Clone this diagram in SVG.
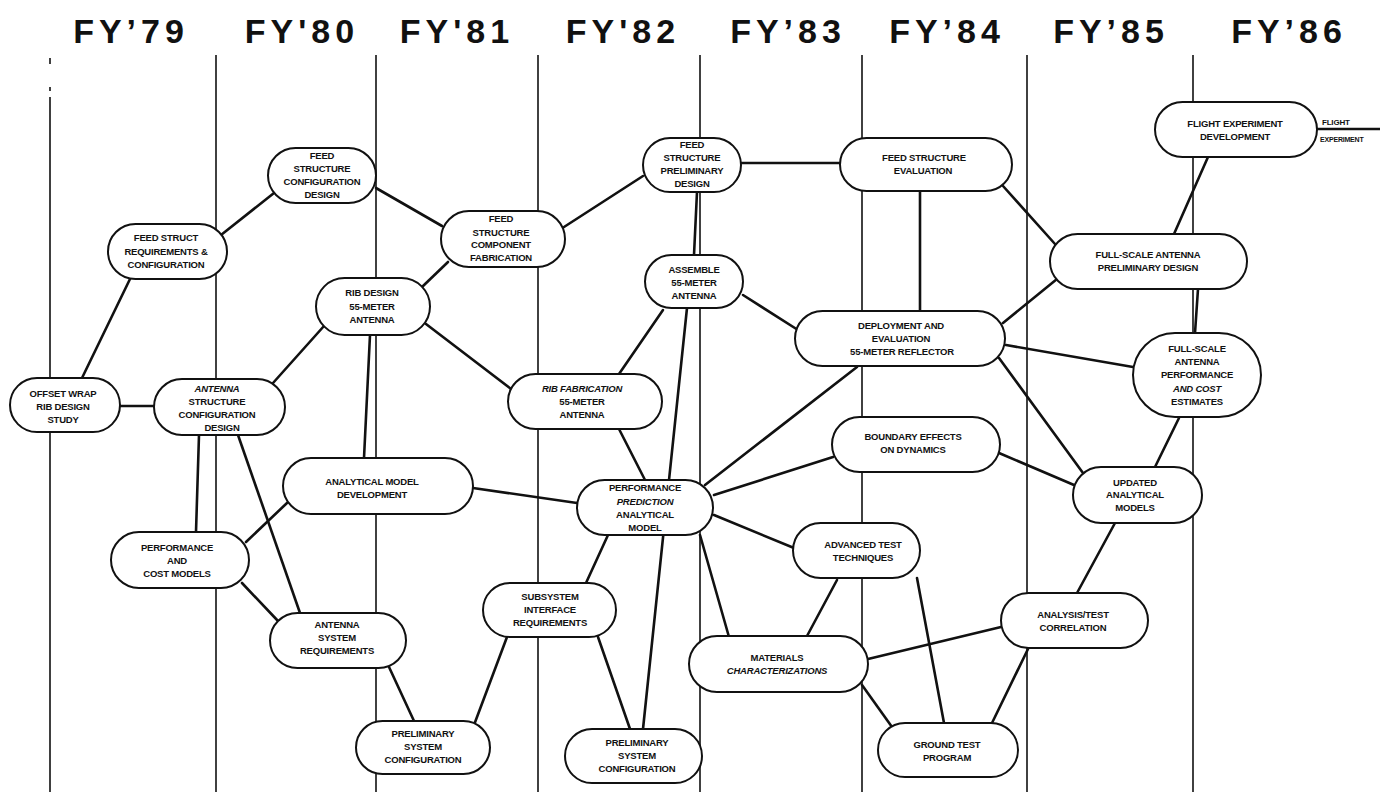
<svg xmlns="http://www.w3.org/2000/svg" width="1380" height="792" viewBox="0 0 1380 792">
  <style>
    .yr { font-family: "Liberation Sans", Arial, sans-serif; font-weight: bold; font-size: 34px; letter-spacing: 5px; fill: #111; text-anchor: middle; }
    .div { stroke: #111; stroke-width: 1.6; fill: none; }
    .edge { stroke: #111; stroke-width: 2.6; stroke-linecap: round; fill: none; }
    .node rect { fill: #fff; stroke: #111; stroke-width: 2; }
    .node text, .lbl { font-family: "Liberation Sans", Arial, sans-serif; font-weight: bold; font-size: 9.5px; letter-spacing: -0.2px; fill: #111; text-anchor: middle; }
    .it { font-style: italic; }
    .lbl { font-size: 8px; text-anchor: start; }
  </style>

  <rect width="1380" height="792" fill="#fff"/>

  <!-- fiscal-year headings -->
  <g id="years">
    <text class="yr" x="131" y="43">FY’79</text>
    <text class="yr" x="302" y="43">FY'80</text>
    <text class="yr" x="457" y="43">FY'81</text>
    <text class="yr" x="623" y="43">FY'82</text>
    <text class="yr" x="788" y="43">FY’83</text>
    <text class="yr" x="947" y="43">FY’84</text>
    <text class="yr" x="1111" y="43">FY’85</text>
    <text class="yr" x="1289" y="43">FY’86</text>
  </g>

  <!-- year dividers -->
  <g id="dividers">
    <path class="div" d="M50 58V64M50 87V91M50 97V792"/>
    <path class="div" d="M216 55V792"/>
    <path class="div" d="M376 55V792"/>
    <path class="div" d="M538 55V792"/>
    <path class="div" d="M700 55V792"/>
    <path class="div" d="M862 55V792"/>
    <path class="div" d="M1027 55V792"/>
    <path class="div" d="M1193 55V792"/>
  </g>

  <!-- connectors -->
  <g id="connectors">
    <line class="edge" x1="82" y1="378" x2="130" y2="279"/>
    <line class="edge" x1="120" y1="406" x2="154" y2="406"/>
    <line class="edge" x1="221" y1="235" x2="274" y2="193"/>
    <line class="edge" x1="376" y1="188" x2="442" y2="226"/>
    <line class="edge" x1="422" y1="287" x2="448" y2="262"/>
    <line class="edge" x1="273" y1="383" x2="324" y2="326"/>
    <line class="edge" x1="426" y1="324" x2="511" y2="389"/>
    <line class="edge" x1="370" y1="335" x2="364" y2="458"/>
    <line class="edge" x1="199" y1="435" x2="196" y2="532"/>
    <line class="edge" x1="238" y1="435" x2="300" y2="613"/>
    <line class="edge" x1="246" y1="542" x2="287" y2="503"/>
    <line class="edge" x1="242" y1="583" x2="278" y2="621"/>
    <line class="edge" x1="389" y1="667" x2="414" y2="721"/>
    <line class="edge" x1="474" y1="725" x2="507" y2="637"/>
    <line class="edge" x1="598" y1="637" x2="630" y2="729"/>
    <line class="edge" x1="643" y1="729" x2="687" y2="308"/>
    <line class="edge" x1="697" y1="192" x2="694" y2="255"/>
    <line class="edge" x1="663" y1="310" x2="619" y2="374"/>
    <line class="edge" x1="743" y1="295" x2="798" y2="330"/>
    <line class="edge" x1="564" y1="227" x2="643" y2="176"/>
    <line class="edge" x1="741" y1="163" x2="840" y2="163"/>
    <line class="edge" x1="920" y1="191" x2="920" y2="311"/>
    <line class="edge" x1="1003" y1="186" x2="1055" y2="244"/>
    <line class="edge" x1="1003" y1="323" x2="1057" y2="279"/>
    <line class="edge" x1="1208" y1="157" x2="1174" y2="234"/>
    <line class="edge" x1="1198" y1="289" x2="1195" y2="333"/>
    <line class="edge" x1="1006" y1="345" x2="1133" y2="367"/>
    <line class="edge" x1="999" y1="358" x2="1083" y2="473"/>
    <line class="edge" x1="999" y1="453" x2="1074" y2="485"/>
    <line class="edge" x1="1179" y1="418" x2="1155" y2="467"/>
    <line class="edge" x1="1115" y1="523" x2="1077" y2="593"/>
    <line class="edge" x1="1001" y1="627" x2="868" y2="659"/>
    <line class="edge" x1="1028" y1="649" x2="992" y2="723"/>
    <line class="edge" x1="917" y1="578" x2="944" y2="723"/>
    <line class="edge" x1="837" y1="580" x2="807" y2="636"/>
    <line class="edge" x1="862" y1="685" x2="892" y2="727"/>
    <line class="edge" x1="700" y1="535" x2="729" y2="637"/>
    <line class="edge" x1="714" y1="515" x2="794" y2="548"/>
    <line class="edge" x1="714" y1="495" x2="833" y2="457"/>
    <line class="edge" x1="705" y1="485" x2="857" y2="367"/>
    <line class="edge" x1="619" y1="429" x2="645" y2="480"/>
    <line class="edge" x1="473" y1="488" x2="577" y2="503"/>
    <line class="edge" x1="608" y1="535" x2="586" y2="583"/>
    <line class="edge" x1="1317" y1="129" x2="1380" y2="129"/>
    <text class="lbl" x="1322" y="125">FLIGHT</text>
    <text class="lbl" x="1320" y="142" style="font-size:7px">EXPERIMENT</text>
  </g>

  <!-- activity nodes -->
  <g id="n-offset-wrap" class="node">
    <rect x="10" y="378" width="110" height="54" rx="27"/>
    <text x="63" y="397">OFFSET WRAP</text>
    <text x="63" y="410">RIB DESIGN</text>
    <text x="63" y="423">STUDY</text>
  </g>
  <g id="n-antenna-structure" class="node">
    <rect x="154" y="379" width="131" height="56" rx="28"/>
    <text x="217" y="392" class="it">ANTENNA</text>
    <text x="217" y="405">STRUCTURE</text>
    <text x="217" y="418">CONFIGURATION</text>
    <text x="222" y="431">DESIGN</text>
  </g>
  <g id="n-feed-struct-req" class="node">
    <rect x="108" y="224" width="119" height="55" rx="27.5"/>
    <text x="166" y="241">FEED STRUCT</text>
    <text x="166" y="255">REQUIREMENTS &amp;</text>
    <text x="166" y="268">CONFIGURATION</text>
  </g>
  <g id="n-feed-config-design" class="node">
    <rect x="268" y="148" width="108" height="55" rx="27.5"/>
    <text x="322" y="159">FEED</text>
    <text x="322" y="172">STRUCTURE</text>
    <text x="322" y="185">CONFIGURATION</text>
    <text x="322" y="198">DESIGN</text>
  </g>
  <g id="n-rib-design" class="node">
    <rect x="316" y="278" width="114" height="57" rx="28.5"/>
    <text x="372" y="296">RIB DESIGN</text>
    <text x="372" y="310">55-METER</text>
    <text x="372" y="323">ANTENNA</text>
  </g>
  <g id="n-feed-component-fab" class="node">
    <rect x="441" y="211" width="124" height="56" rx="28"/>
    <text x="501" y="222">FEED</text>
    <text x="501" y="236">STRUCTURE</text>
    <text x="501" y="248">COMPONENT</text>
    <text x="501" y="261">FABRICATION</text>
  </g>
  <g id="n-feed-prelim-design" class="node">
    <rect x="643" y="138" width="98" height="54" rx="27"/>
    <text x="692" y="148">FEED</text>
    <text x="692" y="161">STRUCTURE</text>
    <text x="692" y="174">PRELIMINARY</text>
    <text x="692" y="187">DESIGN</text>
  </g>
  <g id="n-assemble" class="node">
    <rect x="645" y="255" width="98" height="53" rx="26.5"/>
    <text x="694" y="273">ASSEMBLE</text>
    <text x="694" y="286">55-METER</text>
    <text x="694" y="299">ANTENNA</text>
  </g>
  <g id="n-feed-eval" class="node">
    <rect x="840" y="138" width="172" height="53" rx="26.5"/>
    <text x="924" y="161">FEED STRUCTURE</text>
    <text x="923" y="174">EVALUATION</text>
  </g>
  <g id="n-flight-exp" class="node">
    <rect x="1155" y="102" width="162" height="55" rx="27.5"/>
    <text x="1235" y="127">FLIGHT EXPERIMENT</text>
    <text x="1235" y="140">DEVELOPMENT</text>
  </g>
  <g id="n-fullscale-prelim" class="node">
    <rect x="1050" y="234" width="197" height="55" rx="27.5"/>
    <text x="1148" y="258">FULL-SCALE ANTENNA</text>
    <text x="1148" y="271">PRELIMINARY DESIGN</text>
  </g>
  <g id="n-deployment" class="node">
    <rect x="795" y="311" width="210" height="55" rx="27.5"/>
    <text x="901" y="329">DEPLOYMENT AND</text>
    <text x="901" y="342">EVALUATION</text>
    <text x="902" y="355">55-METER REFLECTOR</text>
  </g>
  <g id="n-fullscale-perf" class="node">
    <rect x="1133" y="333" width="128" height="84" rx="42"/>
    <text x="1197" y="352">FULL-SCALE</text>
    <text x="1197" y="365">ANTENNA</text>
    <text x="1197" y="378">PERFORMANCE</text>
    <text x="1197" y="392" class="it">AND COST</text>
    <text x="1197" y="405">ESTIMATES</text>
  </g>
  <g id="n-rib-fab" class="node">
    <rect x="508" y="374" width="154" height="55" rx="27.5"/>
    <text x="582" y="392" class="it">RIB FABRICATION</text>
    <text x="582" y="405">55-METER</text>
    <text x="582" y="418">ANTENNA</text>
  </g>
  <g id="n-boundary" class="node">
    <rect x="832" y="417" width="168" height="55" rx="27.5"/>
    <text x="913" y="440">BOUNDARY EFFECTS</text>
    <text x="913" y="453">ON DYNAMICS</text>
  </g>
  <g id="n-analytical-dev" class="node">
    <rect x="283" y="458" width="190" height="56" rx="28"/>
    <text x="372" y="485">ANALYTICAL MODEL</text>
    <text x="372" y="498">DEVELOPMENT</text>
  </g>
  <g id="n-perf-prediction" class="node">
    <rect x="577" y="480" width="136" height="55" rx="27.5"/>
    <text x="645" y="491">PERFORMANCE</text>
    <text x="645" y="505" class="it">PREDICTION</text>
    <text x="645" y="518">ANALYTICAL</text>
    <text x="645" y="531">MODEL</text>
  </g>
  <g id="n-updated-models" class="node">
    <rect x="1073" y="467" width="129" height="56" rx="28"/>
    <text x="1135" y="486">UPDATED</text>
    <text x="1135" y="498">ANALYTICAL</text>
    <text x="1135" y="511">MODELS</text>
  </g>
  <g id="n-perf-cost-models" class="node">
    <rect x="111" y="532" width="138" height="56" rx="28"/>
    <text x="177" y="551">PERFORMANCE</text>
    <text x="177" y="564">AND</text>
    <text x="177" y="577">COST MODELS</text>
  </g>
  <g id="n-advanced-test" class="node">
    <rect x="793" y="523" width="127" height="55" rx="27.5"/>
    <text x="863" y="548">ADVANCED TEST</text>
    <text x="863" y="561">TECHNIQUES</text>
  </g>
  <g id="n-antenna-sys-req" class="node">
    <rect x="270" y="613" width="136" height="55" rx="27.5"/>
    <text x="337" y="628">ANTENNA</text>
    <text x="337" y="641">SYSTEM</text>
    <text x="337" y="654">REQUIREMENTS</text>
  </g>
  <g id="n-subsystem" class="node">
    <rect x="483" y="583" width="133" height="54" rx="27"/>
    <text x="550" y="600">SUBSYSTEM</text>
    <text x="550" y="613">INTERFACE</text>
    <text x="550" y="626">REQUIREMENTS</text>
  </g>
  <g id="n-materials" class="node">
    <rect x="689" y="636" width="179" height="56" rx="28"/>
    <text x="777" y="661">MATERIALS</text>
    <text x="777" y="674" class="it">CHARACTERIZATIONS</text>
  </g>
  <g id="n-analysis-test" class="node">
    <rect x="1001" y="593" width="147" height="55" rx="27.5"/>
    <text x="1073" y="618">ANALYSIS/TEST</text>
    <text x="1073" y="631">CORRELATION</text>
  </g>
  <g id="n-prelim-sys-1" class="node">
    <rect x="356" y="721" width="134" height="53" rx="26.5"/>
    <text x="423" y="737">PRELIMINARY</text>
    <text x="423" y="750">SYSTEM</text>
    <text x="423" y="763">CONFIGURATION</text>
  </g>
  <g id="n-prelim-sys-2" class="node">
    <rect x="565" y="729" width="137" height="54" rx="27"/>
    <text x="637" y="746">PRELIMINARY</text>
    <text x="637" y="759">SYSTEM</text>
    <text x="637" y="772">CONFIGURATION</text>
  </g>
  <g id="n-ground-test" class="node">
    <rect x="878" y="723" width="140" height="54" rx="27"/>
    <text x="947" y="748">GROUND TEST</text>
    <text x="947" y="761">PROGRAM</text>
  </g>
</svg>
